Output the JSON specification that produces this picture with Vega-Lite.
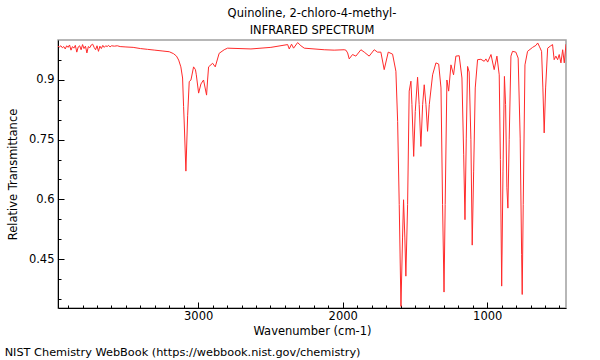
{
  "$schema": "https://vega.github.io/schema/vega-lite/v6.json",
  "autosize": {"type": "pad"},
  "padding": {"left": 4, "top": 6, "right": 33, "bottom": 3},
  "background": "white",
  "config": {
    "font": "DejaVu Sans",
    "view": {"stroke": "#a0a0a0", "strokeWidth": 1.5},
    "concat": {"spacing": 0}
  },
  "title": {
    "text": "NIST Chemistry WebBook (https://webbook.nist.gov/chemistry)",
    "orient": "bottom",
    "anchor": "start",
    "frame": "bounds",
    "font": "DejaVu Sans",
    "fontSize": 11.3,
    "fontWeight": "normal",
    "color": "black",
    "offset": 9,
    "dx": -2
  },
  "vconcat": [
    {
      "width": 508,
      "height": 268,
      "title": {
        "text": ["Quinoline, 2-chloro-4-methyl-", "INFRARED SPECTRUM"],
        "anchor": "middle",
        "frame": "group",
        "font": "DejaVu Sans",
        "fontSize": 11.5,
        "fontWeight": "normal",
        "color": "black",
        "lineHeight": 17,
        "offset": 4
      },
      "data": {
        "values": [
          {"w": 3970, "t": 0.985}, {"w": 3960, "t": 0.983}, {"w": 3950, "t": 0.986}, {"w": 3940, "t": 0.981},
          {"w": 3930, "t": 0.984}, {"w": 3920, "t": 0.978}, {"w": 3910, "t": 0.986}, {"w": 3900, "t": 0.982},
          {"w": 3890, "t": 0.988}, {"w": 3880, "t": 0.975}, {"w": 3870, "t": 0.984}, {"w": 3860, "t": 0.98},
          {"w": 3850, "t": 0.987}, {"w": 3840, "t": 0.97}, {"w": 3830, "t": 0.983}, {"w": 3820, "t": 0.986},
          {"w": 3810, "t": 0.976}, {"w": 3800, "t": 0.989}, {"w": 3790, "t": 0.979}, {"w": 3780, "t": 0.985},
          {"w": 3770, "t": 0.968}, {"w": 3760, "t": 0.984}, {"w": 3750, "t": 0.981}, {"w": 3740, "t": 0.988},
          {"w": 3730, "t": 0.99}, {"w": 3720, "t": 0.982}, {"w": 3710, "t": 0.976}, {"w": 3700, "t": 0.986},
          {"w": 3690, "t": 0.972}, {"w": 3680, "t": 0.985}, {"w": 3670, "t": 0.979}, {"w": 3660, "t": 0.987},
          {"w": 3650, "t": 0.982}, {"w": 3640, "t": 0.986}, {"w": 3630, "t": 0.984}, {"w": 3620, "t": 0.987},
          {"w": 3610, "t": 0.983}, {"w": 3600, "t": 0.986}, {"w": 3580, "t": 0.985}, {"w": 3560, "t": 0.986},
          {"w": 3540, "t": 0.984}, {"w": 3500, "t": 0.983}, {"w": 3450, "t": 0.982}, {"w": 3400, "t": 0.979},
          {"w": 3350, "t": 0.977}, {"w": 3300, "t": 0.975}, {"w": 3250, "t": 0.973}, {"w": 3200, "t": 0.971},
          {"w": 3170, "t": 0.966}, {"w": 3150, "t": 0.96}, {"w": 3135, "t": 0.95}, {"w": 3120, "t": 0.933},
          {"w": 3108, "t": 0.905}, {"w": 3101, "t": 0.833}, {"w": 3097, "t": 0.797}, {"w": 3085, "t": 0.671},
          {"w": 3073, "t": 0.81}, {"w": 3062, "t": 0.896}, {"w": 3050, "t": 0.9}, {"w": 3032, "t": 0.933},
          {"w": 3019, "t": 0.926}, {"w": 3013, "t": 0.913}, {"w": 2997, "t": 0.867}, {"w": 2981, "t": 0.89},
          {"w": 2963, "t": 0.9}, {"w": 2942, "t": 0.862}, {"w": 2935, "t": 0.9}, {"w": 2928, "t": 0.933},
          {"w": 2900, "t": 0.942}, {"w": 2882, "t": 0.933}, {"w": 2855, "t": 0.967}, {"w": 2820, "t": 0.976},
          {"w": 2797, "t": 0.98}, {"w": 2635, "t": 0.978}, {"w": 2497, "t": 0.982}, {"w": 2381, "t": 0.989},
          {"w": 2370, "t": 0.978}, {"w": 2354, "t": 0.99}, {"w": 2340, "t": 0.98}, {"w": 2312, "t": 0.994},
          {"w": 2289, "t": 0.986}, {"w": 2266, "t": 0.98}, {"w": 2128, "t": 0.976}, {"w": 2059, "t": 0.975},
          {"w": 1990, "t": 0.976}, {"w": 1978, "t": 0.975}, {"w": 1966, "t": 0.968}, {"w": 1955, "t": 0.953},
          {"w": 1932, "t": 0.964}, {"w": 1909, "t": 0.96}, {"w": 1874, "t": 0.976}, {"w": 1851, "t": 0.97},
          {"w": 1817, "t": 0.96}, {"w": 1782, "t": 0.976}, {"w": 1759, "t": 0.97}, {"w": 1736, "t": 0.97},
          {"w": 1713, "t": 0.926}, {"w": 1685, "t": 0.97}, {"w": 1655, "t": 0.965}, {"w": 1632, "t": 0.922},
          {"w": 1620, "t": 0.796}, {"w": 1609, "t": 0.587}, {"w": 1597, "t": 0.331}, {"w": 1586, "t": 0.503},
          {"w": 1579, "t": 0.599}, {"w": 1570, "t": 0.503}, {"w": 1563, "t": 0.407}, {"w": 1551, "t": 0.587},
          {"w": 1540, "t": 0.872}, {"w": 1528, "t": 0.897}, {"w": 1521, "t": 0.838}, {"w": 1509, "t": 0.708},
          {"w": 1498, "t": 0.821}, {"w": 1482, "t": 0.907}, {"w": 1471, "t": 0.838}, {"w": 1459, "t": 0.733},
          {"w": 1447, "t": 0.838}, {"w": 1436, "t": 0.888}, {"w": 1424, "t": 0.838}, {"w": 1413, "t": 0.771},
          {"w": 1401, "t": 0.838}, {"w": 1378, "t": 0.913}, {"w": 1355, "t": 0.943}, {"w": 1336, "t": 0.94},
          {"w": 1320, "t": 0.88}, {"w": 1309, "t": 0.587}, {"w": 1299, "t": 0.367}, {"w": 1291, "t": 0.587},
          {"w": 1279, "t": 0.9}, {"w": 1267, "t": 0.872}, {"w": 1251, "t": 0.938}, {"w": 1233, "t": 0.913},
          {"w": 1217, "t": 0.96}, {"w": 1194, "t": 0.961}, {"w": 1175, "t": 0.905}, {"w": 1163, "t": 0.712},
          {"w": 1154, "t": 0.549}, {"w": 1145, "t": 0.754}, {"w": 1136, "t": 0.934}, {"w": 1125, "t": 0.92},
          {"w": 1113, "t": 0.75}, {"w": 1104, "t": 0.485}, {"w": 1094, "t": 0.671}, {"w": 1083, "t": 0.88},
          {"w": 1067, "t": 0.951}, {"w": 1044, "t": 0.952}, {"w": 1021, "t": 0.947}, {"w": 1009, "t": 0.953},
          {"w": 997, "t": 0.945}, {"w": 974, "t": 0.964}, {"w": 952, "t": 0.926}, {"w": 933, "t": 0.96},
          {"w": 917, "t": 0.913}, {"w": 909, "t": 0.7}, {"w": 900, "t": 0.382}, {"w": 891, "t": 0.671},
          {"w": 881, "t": 0.909}, {"w": 873, "t": 0.838}, {"w": 864, "t": 0.629}, {"w": 857, "t": 0.578},
          {"w": 848, "t": 0.75}, {"w": 836, "t": 0.96}, {"w": 825, "t": 0.972}, {"w": 802, "t": 0.97},
          {"w": 786, "t": 0.955}, {"w": 772, "t": 0.754}, {"w": 762, "t": 0.461}, {"w": 758, "t": 0.361},
          {"w": 751, "t": 0.587}, {"w": 739, "t": 0.938}, {"w": 721, "t": 0.972}, {"w": 686, "t": 0.982},
          {"w": 663, "t": 0.987}, {"w": 651, "t": 0.993}, {"w": 640, "t": 0.985}, {"w": 624, "t": 0.972},
          {"w": 615, "t": 0.88}, {"w": 606, "t": 0.767}, {"w": 596, "t": 0.88}, {"w": 582, "t": 0.98},
          {"w": 564, "t": 0.985}, {"w": 548, "t": 0.989}, {"w": 537, "t": 0.951}, {"w": 525, "t": 0.96},
          {"w": 513, "t": 0.951}, {"w": 502, "t": 0.964}, {"w": 490, "t": 0.943}, {"w": 478, "t": 0.976},
          {"w": 467, "t": 0.943}, {"w": 455, "t": 0.99}
        ]
      },
      "mark": {"type": "line", "color": "#ff2a2a", "strokeWidth": 1, "clip": true, "interpolate": "linear"},
      "encoding": {
        "x": {
          "field": "w",
          "type": "quantitative",
          "scale": {"domain": [455, 3970], "reverse": true, "nice": false, "zero": false},
          "axis": {
            "title": "Wavenumber (cm-1)",
            "values": [500, 600, 700, 800, 900, 1000, 1100, 1200, 1300, 1400, 1500, 1600, 1700, 1800, 1900, 2000, 2100, 2200, 2300, 2400, 2500, 2600, 2700, 2800, 2900, 3000, 3100, 3200, 3300, 3400, 3500, 3600, 3700, 3800, 3900],
            "labelExpr": "datum.value % 1000 === 0 ? format(datum.value, 'd') : ''",
            "tickSize": {"condition": {"test": "datum.value % 1000 === 0", "value": -6}, "value": -3},
            "tickColor": "black",
            "domainColor": "black",
            "labelColor": "black",
            "titleColor": "black",
            "labelFontSize": 11.5,
            "titleFontSize": 11.5,
            "titleFontWeight": "normal",
            "labelPadding": 8,
            "titlePadding": 1,
            "grid": false,
            "labelFlush": false,
            "labelOverlap": false
          }
        },
        "y": {
          "field": "t",
          "type": "quantitative",
          "scale": {"domain": [0.327, 1.0005], "nice": false, "zero": false},
          "axis": {
            "title": "Relative Transmittance",
            "values": [0.35, 0.4, 0.45, 0.5, 0.55, 0.6, 0.65, 0.7, 0.75, 0.8, 0.85, 0.9, 0.95],
            "labelExpr": "indexof([0.45, 0.6, 0.75, 0.9], datum.value) >= 0 ? format(datum.value, '~g') : ''",
            "tickSize": {"condition": {"test": "indexof([0.45, 0.6, 0.75, 0.9], datum.value) >= 0", "value": -6}, "value": -3},
            "tickColor": "black",
            "domainColor": "black",
            "labelColor": "black",
            "titleColor": "black",
            "labelFontSize": 11.5,
            "titleFontSize": 11.5,
            "titleFontWeight": "normal",
            "labelPadding": 10,
            "titlePadding": 10,
            "grid": false,
            "labelFlush": false,
            "labelOverlap": false
          }
        }
      }
    }
  ]
}
